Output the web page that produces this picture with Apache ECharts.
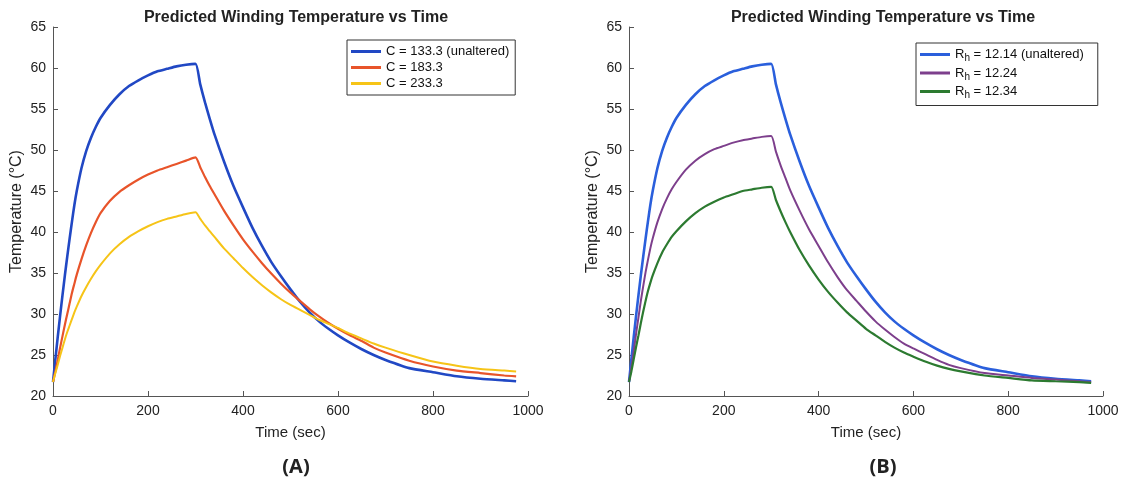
<!DOCTYPE html>
<html>
<head>
<meta charset="utf-8">
<script src="https://cdn.jsdelivr.net/npm/echarts@6/dist/echarts.min.js"></script>
<style>
html,body{margin:0;padding:0;background:#fff;}
#chart{width:1125px;height:489px;}
</style>
</head>
<body>
<div id="chart"></div>
<script>
// ---- data ----
const times = [0,5,10,15,20,25,30,35,40,45,50,60,70,80,90,100,120,140,160,180,200,220,240,260,280,300,
  310,320,330,340,360,380,400,420,440,460,480,500,520,540,560,580,600,625,650,675,700,750,800,850,900,950,975];

// C = 133.3 / Rh = 12.14 (unaltered, same curve in both panels)
const tempUnaltered = [21.7,24.5,27.2,29.8,32.3,34.7,37.0,39.2,41.3,43.3,45.0,47.8,49.9,51.5,52.8,53.9,55.5,56.8,57.8,58.5,59.1,59.6,59.9,60.2,60.4,60.5,
  58.0,55.8,53.8,51.9,48.6,45.6,43.0,40.5,38.3,36.3,34.6,33.0,31.5,30.2,29.1,28.2,27.4,26.5,25.7,25.0,24.4,23.4,22.9,22.4,22.1,21.9,21.8];
// C = 183.3
const tempC183 = [21.7,23.0,24.4,25.9,27.3,28.7,30.0,31.3,32.6,33.7,34.8,36.7,38.4,39.9,41.2,42.3,43.8,44.9,45.7,46.4,47.0,47.5,47.9,48.3,48.7,49.1,
  47.9,46.7,45.6,44.6,42.6,40.8,39.1,37.6,36.2,34.9,33.7,32.6,31.6,30.6,29.7,28.9,28.2,27.4,26.7,25.9,25.3,24.3,23.6,23.1,22.8,22.5,22.4];
// C = 233.3
const tempC233 = [21.7,22.8,23.8,24.9,25.9,26.9,27.8,28.6,29.4,30.2,30.9,32.2,33.3,34.3,35.2,36.0,37.4,38.5,39.4,40.1,40.7,41.2,41.6,41.9,42.2,42.4,
  41.6,40.8,40.1,39.4,38.0,36.8,35.6,34.5,33.5,32.6,31.8,31.1,30.5,29.9,29.3,28.8,28.3,27.6,27.0,26.4,25.9,25.0,24.2,23.7,23.3,23.1,23.0];
// Rh = 12.24
const tempR1224 = [21.7,23.5,25.5,27.6,29.6,31.6,33.4,35.1,36.6,38.0,39.2,41.2,42.8,44.1,45.2,46.1,47.6,48.7,49.5,50.1,50.5,50.9,51.2,51.4,51.6,51.7,
  49.8,48.1,46.6,45.1,42.6,40.3,38.3,36.3,34.5,32.9,31.6,30.3,29.1,28.1,27.2,26.4,25.8,25.1,24.4,23.8,23.4,22.8,22.5,22.2,22.0,21.8,21.7];
// Rh = 12.34
const tempR1234 = [21.7,23.0,24.5,26.0,27.4,28.9,30.3,31.6,32.8,33.8,34.7,36.2,37.5,38.5,39.4,40.1,41.3,42.3,43.1,43.7,44.2,44.6,45.0,45.2,45.4,45.5,
  43.9,42.5,41.2,40.0,37.8,35.9,34.2,32.7,31.4,30.2,29.2,28.2,27.4,26.6,25.9,25.3,24.8,24.2,23.7,23.3,23.0,22.5,22.2,21.9,21.8,21.7,21.6];

const seriesNamesA = ['C = 133.3 (unaltered)','C = 183.3','C = 233.3'];
const seriesNamesB = ['Rh = 12.14 (unaltered)','Rh = 12.24','Rh = 12.34'];
const xTicks = [0,200,400,600,800,1000];
const yTicks = [20,25,30,35,40,45,50,55,60,65];
const chartTitle = 'Predicted Winding Temperature vs Time';
const xName = 'Time (sec)';
const yName = 'Temperature (\u00B0C)';
const panelLabels = ['(A)','(B)'];

// ---- chart ----
const pair = arr => times.map((t,i)=>[t,arr[i]]);
const FONT = '"Liberation Sans", Arial, Helvetica, sans-serif';
const axisColor = '#555';

function xAxis(idx){
  return {gridIndex: idx, type:'value', min: xTicks[0], max: xTicks[xTicks.length-1], interval: 200,
    name: xName, nameLocation:'middle', nameGap: 29,
    nameTextStyle:{fontFamily:FONT,fontSize:15,color:'#222'},
    axisLine:{show:true,lineStyle:{color:axisColor,width:1}},
    axisTick:{show:true,inside:true,length:5,lineStyle:{color:axisColor}},
    axisLabel:{fontFamily:FONT,fontSize:14,color:'#222',margin:8, formatter: v => String(v)},
    splitLine:{show:false}};
}
function yAxis(idx){
  return {gridIndex: idx, type:'value', min: yTicks[0], max: yTicks[yTicks.length-1], interval: 5,
    name: yName, nameLocation:'middle', nameGap: 28, nameRotate: 90,
    nameTextStyle:{fontFamily:FONT,fontSize:16,color:'#222'},
    axisLine:{show:true,lineStyle:{color:axisColor,width:1}},
    axisTick:{show:true,inside:true,length:5,lineStyle:{color:axisColor}},
    axisLabel:{fontFamily:FONT,fontSize:14,color:'#222',margin:7},
    splitLine:{show:false}};
}
function line(name, arr, color, idx, width){
  return {name, type:'line', xAxisIndex: idx, yAxisIndex: idx, data: pair(arr),
    showSymbol:false, symbol:'none', smooth:0.2,
    lineStyle:{color, width}, itemStyle:{color}, emphasis:{disabled:true}, animation:false};
}

const colA = ['#2148c4','#e8542a','#f6c417'];
const colB = ['#2a5fdc','#7d3f8c','#2c7a30'];

const legendBase = {orient:'vertical', itemWidth:30, itemHeight:3, itemGap:3, icon:'rect',
  backgroundColor:'#fff', borderColor:'#333', borderWidth:1, borderRadius:0,
  padding:[5,6,5,4], textStyle:{fontFamily:FONT,fontSize:13,color:'#111'}};

const option = {
  animation:false,
  title:[
    {text: chartTitle, left: 291, top: 5, textAlign:'center',
      textStyle:{fontFamily:FONT,fontSize:16,fontWeight:'bold',color:'#222'}},
    {text: chartTitle, left: 878, top: 5, textAlign:'center',
      textStyle:{fontFamily:FONT,fontSize:16,fontWeight:'bold',color:'#222'}},
    {text: panelLabels[0], left: 291, top: 452, textAlign:'center',
      textStyle:{fontFamily:'"Open Sans", sans-serif',fontSize:20,fontWeight:'bold',color:'#222'}},
    {text: panelLabels[1], left: 878, top: 452, textAlign:'center',
      textStyle:{fontFamily:'"Open Sans", sans-serif',fontSize:20,fontWeight:'bold',color:'#222'}}
  ],
  grid:[
    {left:53, top:27, width:475, height:369},
    {left:629, top:27, width:474, height:369}
  ],
  xAxis:[xAxis(0), xAxis(1)],
  yAxis:[yAxis(0), yAxis(1)],
  legend:[
    Object.assign({}, legendBase, {left:347, top:40, data: seriesNamesA}),
    Object.assign({}, legendBase, {left:916, top:43, data: seriesNamesB, padding:[5,14,5,4],
      formatter: n => '{r|R}{s|h}{r|' + n.slice(2) + '}',
      textStyle:{fontFamily:FONT,fontSize:13,color:'#111',
        rich:{r:{fontFamily:FONT,fontSize:13,color:'#111'},
              s:{fontFamily:FONT,fontSize:10,color:'#111',padding:[8,0,0,0]}}}})
  ],
  series:[
    line(seriesNamesA[0], tempUnaltered, colA[0], 0, 2.6),
    line(seriesNamesA[1], tempC183, colA[1], 0, 2.2),
    line(seriesNamesA[2], tempC233, colA[2], 0, 2.0),
    line(seriesNamesB[0], tempUnaltered, colB[0], 1, 2.6),
    line(seriesNamesB[1], tempR1224, colB[1], 1, 2.0),
    line(seriesNamesB[2], tempR1234, colB[2], 1, 2.2)
  ]
};
const chart = echarts.init(document.getElementById('chart'), null, {renderer:'canvas'});
chart.setOption(option);
</script>
</body>
</html>
